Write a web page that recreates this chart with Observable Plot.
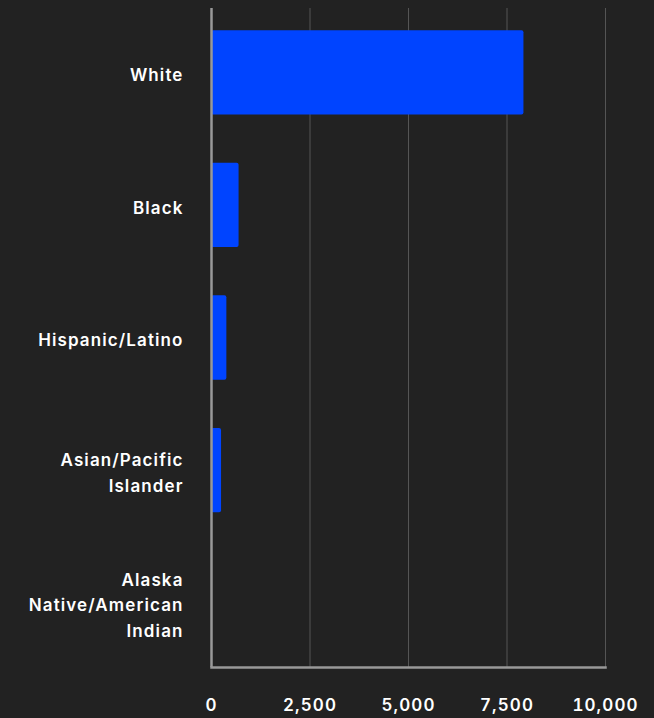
<!DOCTYPE html>
<html><head><meta charset="utf-8">
<script src="https://cdn.jsdelivr.net/npm/d3@7"></script>
<script src="https://cdn.jsdelivr.net/npm/@observablehq/plot@0.6"></script>
<style>
html,body{margin:0;padding:0;background:#222222;}
</style></head><body><div id="chart"></div>
<script>
const categories = ["White", "Black", "Hispanic/Latino", "Asian/Pacific Islander", "Alaska Native/American Indian"];
const labels = ["White", "Black", "Hispanic/Latino", "Asian/Pacific\nIslander", "Alaska\nNative/American\nIndian"];
const values = [7930, 700, 390, 255, 10];
const xTicks = [0, 2500, 5000, 7500, 10000];

const data = categories.map((c, i) => ({category: c, value: values[i]}));
const labelOf = new Map(categories.map((c, i) => [c, labels[i]]));

const chart = Plot.plot({
  width: 654,
  height: 718,
  marginTop: 8,
  marginBottom: 51,
  marginLeft: 211,
  marginRight: 49,
  style: {background: "#222222", color: "#ffffff", fontFamily: "Inter, sans-serif", fontSize: "17px", fontWeight: 600, letterSpacing: "1.1px"},
  x: {domain: [0, 10000]},
  y: {domain: categories, paddingInner: 0.364, paddingOuter: 0.167, round: false},
  marks: [
    Plot.gridX(xTicks.slice(1), {stroke: "#555555", strokeOpacity: 1, strokeWidth: 1}),
    Plot.barX(data, {x: "value", y: "category", fill: "#0044ff", rx: 2}),
    Plot.ruleX([0], {stroke: "#999999", strokeWidth: 2.5}),
    Plot.frame({anchor: "bottom", stroke: "#999999", strokeWidth: 2.5}),
    Plot.axisX({ticks: xTicks, tickSize: 0, tickPadding: 31, tickFormat: d3.format(","), fill: "#ffffff", label: null}),
    Plot.axisY({tickSize: 0, tickPadding: 28, tickFormat: d => labelOf.get(d), lineHeight: 1.5, fill: "#ffffff", label: null})
  ]
});
document.getElementById("chart").appendChild(chart);
</script>
</body></html>
